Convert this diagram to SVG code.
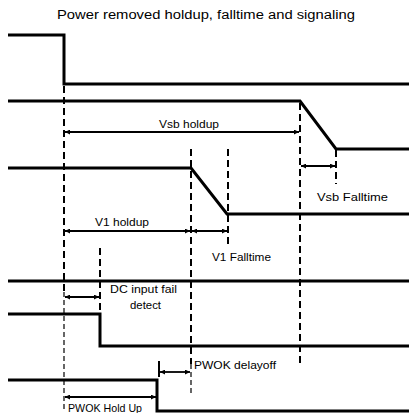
<svg xmlns="http://www.w3.org/2000/svg" width="409" height="413" viewBox="0 0 409 413">
<defs>
<marker id="ah" viewBox="0 0 10 10" refX="10" refY="5" markerWidth="5" markerHeight="5" orient="auto-start-reverse" markerUnits="userSpaceOnUse">
<path d="M0,0 L10,5 L0,10 z" fill="#000"/>
</marker>
<style>
.sig{fill:none;stroke:#000;stroke-width:3;stroke-linejoin:miter}
.dash{stroke:#000;stroke-width:2;stroke-dasharray:7,4;fill:none}
.thin{stroke:#000;stroke-width:1.2;stroke-dasharray:5,3;fill:none}
.arr{stroke:#000;stroke-width:1.8;fill:none;marker-start:url(#ah);marker-end:url(#ah)}
text{font-family:"Liberation Sans",Arial,sans-serif;font-size:11.5px;fill:#000}
.title{font-size:12.5px}
</style>
</defs>
<rect width="409" height="413" fill="#fff"/>
<text class="title" x="57" y="19" textLength="298" lengthAdjust="spacingAndGlyphs">Power removed holdup, falltime and signaling</text>
<g id="signals">
<polyline id="sig1" class="sig" points="8,35 64,35 64,84 409,84"/>
<polyline id="sig2" class="sig" points="8,101 300,101 336,149 409,149"/>
<polyline id="sig3" class="sig" points="8,168 191,168 227,214 409,214"/>
<polyline id="sig4" class="sig" points="8,281 409,281"/>
<polyline id="sig5" class="sig" points="8,314 100,314 100,346 409,346"/>
<polyline id="sig6" class="sig" points="8,380 157,380 157,411 409,411"/>
</g>
<g id="connectors">
<line class="dash" x1="64" y1="86" x2="64" y2="292"/>
<line class="thin" x1="64" y1="292" x2="64" y2="410"/>
<line class="dash" x1="300" y1="103" x2="300" y2="364"/>
<line class="dash" x1="336" y1="150" x2="336" y2="184"/>
<line class="dash" x1="191" y1="149" x2="191" y2="364"/>
<line class="thin" x1="191" y1="364" x2="191" y2="396"/>
<line class="dash" x1="228" y1="149" x2="228" y2="248"/>
<line class="dash" x1="100" y1="248" x2="100" y2="313"/>
<line stroke="#000" stroke-width="2" x1="159" y1="361" x2="159" y2="377"/>
<line class="arr" x1="65" y1="132" x2="299" y2="132"/>
<line class="arr" x1="301" y1="166" x2="335" y2="166"/>
<line class="arr" x1="65" y1="231" x2="190" y2="231"/>
<line class="arr" x1="192" y1="231" x2="227" y2="231"/>
<line class="arr" x1="65" y1="297" x2="99" y2="297"/>
<line class="arr" x1="160" y1="372" x2="190" y2="372"/>
<line class="arr" x1="65" y1="397" x2="156" y2="397"/>
</g>
<g id="labels">
<text x="159" y="128" textLength="60" lengthAdjust="spacingAndGlyphs">Vsb holdup</text>
<text x="317" y="201" textLength="71" lengthAdjust="spacingAndGlyphs">Vsb Falltime</text>
<text x="95" y="226" textLength="54" lengthAdjust="spacingAndGlyphs">V1 holdup</text>
<text x="212" y="261" textLength="59" lengthAdjust="spacingAndGlyphs">V1 Falltime</text>
<text x="110" y="293" textLength="67" lengthAdjust="spacingAndGlyphs">DC input fail</text>
<text x="130" y="309" textLength="31" lengthAdjust="spacingAndGlyphs">detect</text>
<text x="194" y="369" textLength="82" lengthAdjust="spacingAndGlyphs">PWOK delayoff</text>
<text x="68" y="412" textLength="74" lengthAdjust="spacingAndGlyphs">PWOK Hold Up</text>
</g>
</svg>
